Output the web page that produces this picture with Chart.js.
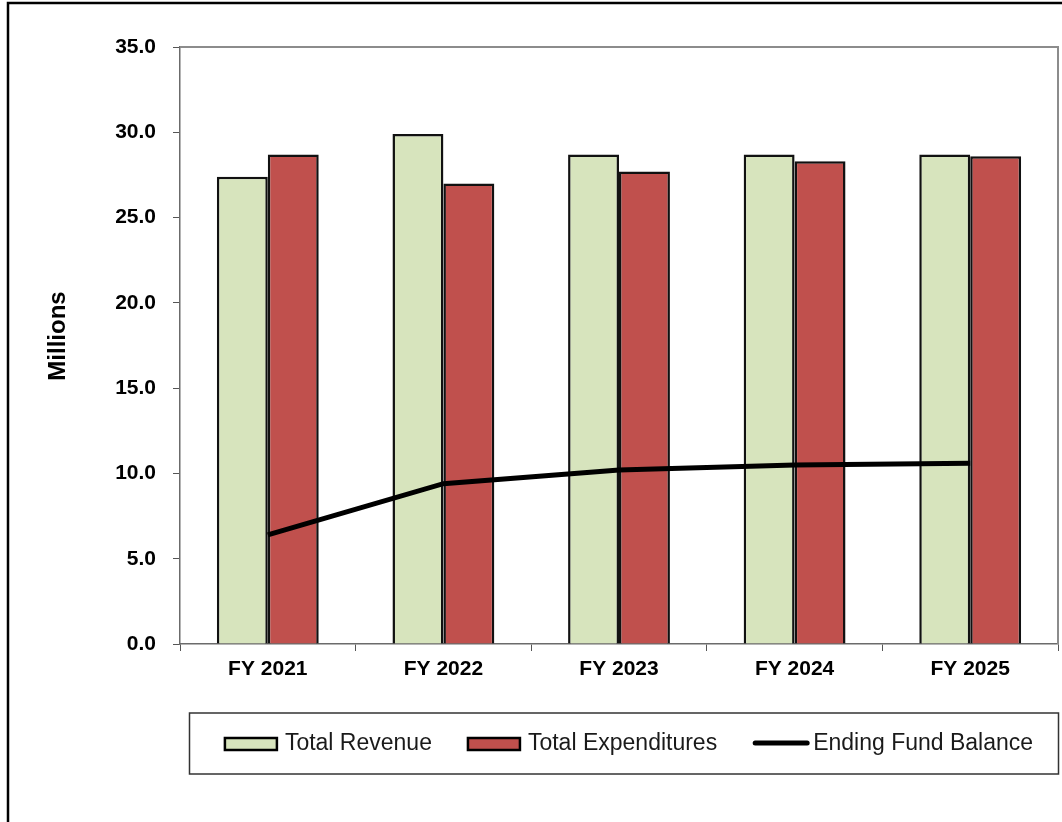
<!DOCTYPE html>
<html>
<head>
<meta charset="utf-8">
<title>Revenue, Expenditures and Fund Balance</title>
<script src="https://cdn.jsdelivr.net/npm/chart.js@4.4.1/dist/chart.umd.min.js"></script>
<style>
  html, body { margin: 0; padding: 0; background: #fff; }
  #wrap { width: 1062px; height: 822px; position: relative; }
</style>
</head>
<body>
<div id="wrap"><canvas id="fundChart"></canvas></div>
<script>
const fiscalYears = ['FY 2021', 'FY 2022', 'FY 2023', 'FY 2024', 'FY 2025'];
const totalRevenue = [27.4, 29.9, 28.7, 28.7, 28.7];
const totalExpenditures = [28.7, 27.0, 27.7, 28.3, 28.6];
const endingFundBalance = [6.4, 9.4, 10.2, 10.5, 10.6];
const yTicks = [0, 5, 10, 15, 20, 25, 30, 35];

const FONT = '"Liberation Sans", Arial, Helvetica, sans-serif';

// frame, plot outline, axis title and the boxed legend
const decorations = {
    id: 'decorations',
    beforeDraw(chart) {
        const ctx = chart.ctx;
        ctx.save();
        ctx.fillStyle = '#fff';
        ctx.fillRect(0, 0, chart.width, chart.height);
        ctx.strokeStyle = '#000';
        ctx.lineWidth = 2.5;
        ctx.beginPath();
        ctx.moveTo(8, chart.height + 2);
        ctx.lineTo(8, 3);
        ctx.lineTo(chart.width + 2, 3);
        ctx.stroke();
        ctx.restore();
    },
    afterDatasetsDraw(chart) {
        const ctx = chart.ctx;
        const a = chart.chartArea;
        ctx.save();
        ctx.strokeStyle = '#8c8c8c';
        ctx.lineWidth = 2;
        ctx.beginPath();
        ctx.moveTo(a.left, a.top);
        ctx.lineTo(a.right, a.top);
        ctx.lineTo(a.right, a.bottom);
        ctx.stroke();

        // y axis title
        ctx.fillStyle = '#000';
        ctx.font = 'bold 24px ' + FONT;
        ctx.textAlign = 'center';
        ctx.textBaseline = 'middle';
        ctx.translate(58, 336);
        ctx.rotate(-Math.PI / 2);
        ctx.fillText('Millions', 0, 0);
        ctx.restore();

        // legend
        const box = { x: 189.5, y: 713, w: 869, h: 61 };
        ctx.save();
        ctx.strokeStyle = '#333';
        ctx.lineWidth = 1.5;
        ctx.strokeRect(box.x, box.y, box.w, box.h);
        ctx.font = '23px ' + FONT;
        ctx.textBaseline = 'middle';
        ctx.textAlign = 'left';
        const items = chart.data.datasets.map(ds => ({
            ds,
            swatch: ds.type === 'line' ? 56 : 52,
            gap: ds.type === 'line' ? 4 : 8,
            tw: ctx.measureText(ds.label).width
        }));
        const spacing = 36;
        let total = 0;
        items.forEach((it, i) => { total += it.swatch + it.gap + it.tw + (i ? spacing : 0); });
        let x = box.x + (box.w - total) / 2 + 5;
        const cy = 744;
        items.forEach(it => {
            if (it.ds.type === 'line') {
                ctx.strokeStyle = '#000';
                ctx.lineWidth = 5;
                ctx.lineCap = 'round';
                ctx.beginPath();
                ctx.moveTo(x + 2, cy - 1);
                ctx.lineTo(x + it.swatch - 2, cy - 1);
                ctx.stroke();
            } else {
                ctx.fillStyle = it.ds.backgroundColor;
                ctx.fillRect(x, cy - 6, it.swatch, 12);
                ctx.strokeStyle = '#000';
                ctx.lineWidth = 2.5;
                ctx.strokeRect(x, cy - 6, it.swatch, 12);
            }
            x += it.swatch + it.gap;
            ctx.fillStyle = '#1a1a1a';
            ctx.fillText(it.ds.label, x, cy);
            x += it.tw + spacing;
        });
        ctx.restore();
    }
};

new Chart(document.getElementById('fundChart'), {
    data: {
        labels: fiscalYears,
        datasets: [
            {
                type: 'bar',
                label: 'Total Revenue',
                data: totalRevenue,
                backgroundColor: '#D7E4BD',
                borderColor: '#111',
                borderWidth: 2.5,
                categoryPercentage: 0.58,
                barPercentage: 1,
                order: 1
            },
            {
                type: 'bar',
                label: 'Total Expenditures',
                data: totalExpenditures,
                backgroundColor: '#C0504D',
                borderColor: '#111',
                borderWidth: 2.5,
                categoryPercentage: 0.58,
                barPercentage: 1,
                order: 1
            },
            {
                type: 'line',
                label: 'Ending Fund Balance',
                data: endingFundBalance,
                borderColor: '#000',
                borderWidth: 5,
                pointRadius: 0,
                tension: 0,
                fill: false,
                order: 0
            }
        ]
    },
    options: {
        responsive: true,
        maintainAspectRatio: false,
        animation: false,
        layout: { padding: { top: 47, right: 4, bottom: 0, left: 0 } },
        plugins: {
            legend: { display: false },
            tooltip: { enabled: false }
        },
        scales: {
            x: {
                offset: true,
                grid: {
                    offset: true,
                    drawOnChartArea: false,
                    tickLength: 7,
                    color: '#555'
                },
                border: { color: '#6b6b6b', width: 1.5 },
                ticks: {
                    color: '#000',
                    padding: 6,
                    font: { family: FONT, size: 21, weight: 'bold' }
                },
                afterFit(scale) { scale.height = 178; }
            },
            y: {
                min: 0,
                max: 35,
                afterBuildTicks(scale) { scale.ticks = yTicks.map(v => ({ value: v })); },
                grid: {
                    drawOnChartArea: false,
                    tickLength: 7,
                    color: '#555'
                },
                border: { color: '#6b6b6b', width: 1.5 },
                ticks: {
                    color: '#000',
                    padding: 17,
                    font: { family: FONT, size: 21, weight: 'bold' },
                    callback: v => Number(v).toFixed(1)
                },
                afterFit(scale) { scale.width = 180; }
            }
        }
    },
    plugins: [decorations]
});
</script>
</body>
</html>
